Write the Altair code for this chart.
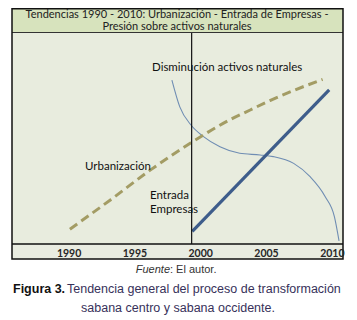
import altair as alt
import pandas as pd

# ---------------- data ----------------
x_ticks = [1990, 1995, 2000, 2005, 2010]
x_domain = [1985.7, 2010.85]

urb_years = [1990.1, 1993.2, 1996.2, 1999.3, 2002.3, 2003.8, 2005.3, 2009.3]
urb_values = [7, 21, 35, 48, 59, 63.5, 68, 78]

ent_years = [1999.4, 2009.8]
ent_values = [6, 73]

dis_years = [1997.85, 1998.45, 1999.3, 2000.25, 2001.5, 2003.0, 2004.55,
             2005.55, 2007.1, 2008.35, 2009.5, 2010.2, 2010.55]
dis_values = [77.7, 65, 56.4, 50.9, 46.1, 43, 42.2, 41.4, 38.2, 31.9, 22.4, 12.9, 1.5]

vline_year = [1999.35]

title_lines = ["Tendencias 1990 - 2010:  Urbanización - Entrada de Empresas -",
               "Presión sobre activos naturales"]
label_dis = "Disminución  activos naturales"
label_urb = "Urbanización"
label_ent = ["Entrada", "Empresas"]

# ---------------- chart ----------------
W, H = 331, 211
one = pd.DataFrame({"a": [1]})

xs = alt.X("year:Q",
           scale=alt.Scale(domain=x_domain, nice=False, zero=False),
           axis=alt.Axis(values=x_ticks, format="d", ticks=False, domain=False,
                         grid=False, labelFont="Lato", labelFontSize=10.5,
                         labelFontWeight="bold", labelColor="#262626",
                         labelPadding=4, title=None, zindex=2))
ys = alt.Y("value:Q", scale=alt.Scale(domain=[0, 100], nice=False, zero=False), axis=None)

title_band = alt.Chart(one).mark_rect(fill="#d7e3bd").encode(
    x=alt.value(0), x2=alt.value(W), y=alt.value(-24), y2=alt.value(0))
axis_band = alt.Chart(one).mark_rect(fill="#e9ece1").encode(
    x=alt.value(0), x2=alt.value(W), y=alt.value(H), y2=alt.value(226))
band_rule = alt.Chart(one).mark_rule(color="#333333", strokeWidth=1).encode(
    x=alt.value(0), x2=alt.value(W), y=alt.value(-0.5))
axis_rule = alt.Chart(one).mark_rule(color="#111111", strokeWidth=1.5).encode(
    x=alt.value(0), x2=alt.value(W), y=alt.value(H))
border = alt.Chart(one).mark_rect(fillOpacity=0, stroke="#111111", strokeWidth=1.5).encode(
    x=alt.value(0), x2=alt.value(W), y=alt.value(-24.2), y2=alt.value(226))

df_urb = pd.DataFrame({"year": urb_years, "value": urb_values})
df_ent = pd.DataFrame({"year": ent_years, "value": ent_values})
df_dis = pd.DataFrame({"year": dis_years, "value": dis_values})
df_v = pd.DataFrame({"year": vline_year})

urb = alt.Chart(df_urb).mark_line(color="#a39c64", strokeWidth=3, strokeDash=[9, 5],
                                  interpolate="monotone").encode(x=xs, y=ys)
ent = alt.Chart(df_ent).mark_line(color="#3e5d8b", strokeWidth=3.2).encode(x=xs, y=ys)
dis = alt.Chart(df_dis).mark_line(color="#6f8db3", strokeWidth=1.1,
                                  interpolate="monotone").encode(x=xs, y=ys)
vline = alt.Chart(df_v).mark_rule(color="#111111", strokeWidth=1.2).encode(
    x=xs, y=alt.value(0), y2=alt.value(H))

def txt(s, x, y, align="left", font="Lato", size=11.5, color="#111111",
        weight="normal", style="normal"):
    return alt.Chart(one).mark_text(align=align, baseline="middle", font=font,
                                    fontSize=size, color=color, fontWeight=weight,
                                    fontStyle=style).encode(
        x=alt.value(x), y=alt.value(y), text=alt.value(s))

texts = [
    txt(title_lines[0], 165, -18, align="center", size=11, color="#222222"),
    txt(title_lines[1], 165, -6.5, align="center", size=11, color="#222222"),
    txt(label_dis, 140, 35),
    txt(label_urb, 73, 134),
    txt(label_ent[0], 138, 163),
    txt(label_ent[1], 138, 177),
    txt("Fuente", 158, 237, align="right", font="Liberation Sans", size=11,
        color="#333333", style="italic"),
    txt(": El autor.", 158, 237, align="left", font="Liberation Sans", size=11,
        color="#333333"),
    txt("Figura 3.", 1, 256, align="left", font="Liberation Sans", size=12.5,
        color="#111111", weight="bold"),
    txt("Tendencia general del proceso de transformación", 55, 256, align="left",
        font="Liberation Sans", size=12.5, color="#37315a"),
    txt("sabana centro y sabana occidente.", 166, 275, align="center",
        font="Liberation Sans", size=12.5, color="#37315a"),
]

chart = alt.layer(title_band, axis_band, band_rule, dis, urb, ent, vline, axis_rule,
                  border, *texts).properties(
    width=W, height=H,
    autosize=alt.AutoSizeParams(type="none"),
    padding={"left": 4, "top": 25, "right": 6, "bottom": 72},
).configure_view(stroke=None, fill="#e8ecde")

chart.save("out.html", embed_options={"renderer": "svg", "actions": False})
